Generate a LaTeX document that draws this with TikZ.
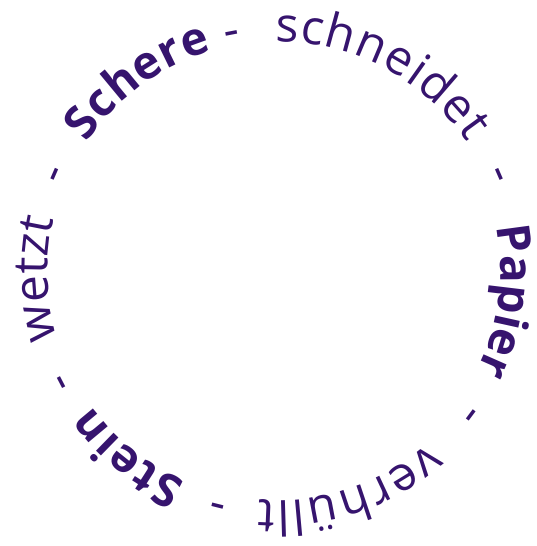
\documentclass[tikz,border=0pt]{standalone}
\usepackage{fontspec}
\setmainfont{Open Sans}
\usetikzlibrary{decorations.text}
\definecolor{purp}{HTML}{36146E}
\newcommand{\rg}{\fontsize{48}{52}\selectfont\color{purp}}
\newcommand{\bd}{\fontsize{46}{50}\selectfont\bfseries\color{purp}}
\tikzset{
  wordarc/.style={decorate, decoration={text along path, text={#1}, text align=fit to path}},
  dashn/.style={inner sep=0pt, anchor=base, font=\rg}
}
\begin{document}
\begin{tikzpicture}
\useasboundingbox (-277pt,-275pt) rectangle (259pt,271pt);
\def\R{229.5pt}
\def\Rp{223.5pt}
% words
\path[wordarc={|\bd|Schere}] (146:\R) arc[start angle=146, end angle=106.5, radius=\R];
\path[wordarc={|\rg|schneidet}] (90.5:\R) arc[start angle=90.5, end angle=34, radius=\R];
\path[wordarc={|\bd|Papier}] (11.4:\Rp) arc[start angle=11.4, end angle=-26.5, radius=\Rp];
\path[wordarc={|\rg|verhüllt}] (-48.8:\R) arc[start angle=-48.8, end angle=-94.5, radius=\R];
\path[wordarc={|\bd|Stein}] (-113.4:\R) arc[start angle=-113.4, end angle=-144, radius=\R];
\path[wordarc={|\rg|wetzt}] (-163:\R) arc[start angle=-163, end angle=-192.7, radius=\R];
% dashes
\node[dashn, rotate=10.8] (d1) at (100.8:\R) {-};
\node[dashn, rotate=-66.4] (d2) at (23.6:\R) {-};
\node[dashn, rotate=-126.7] (d3) at (-36.7:\R) {-};
\node[dashn, rotate=-194] (d4) at (-104:\R) {-};
\node[dashn, rotate=-242.6] (d5) at (-152.6:\R) {-};
\node[dashn, rotate=66.6] (d6) at (156.6:\R) {-};
\end{tikzpicture}
\end{document}
